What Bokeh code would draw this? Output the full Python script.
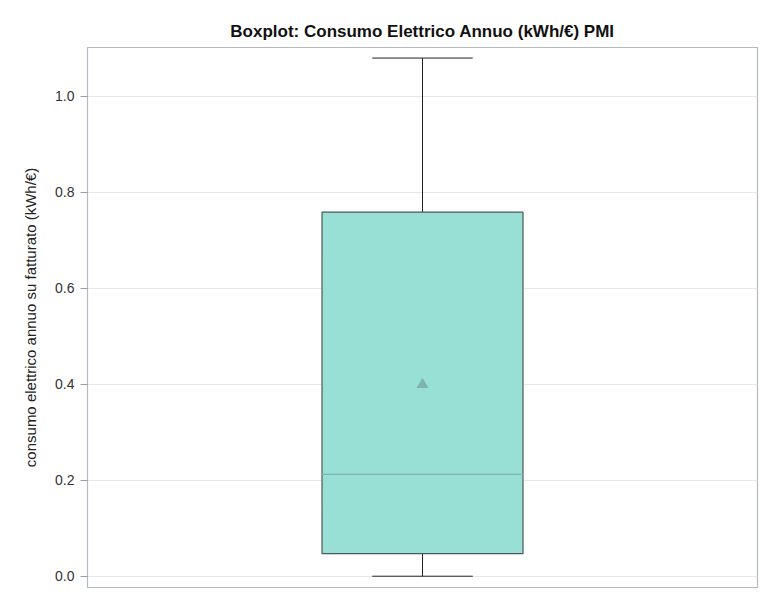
from bokeh.plotting import figure
from bokeh.models import ColumnDataSource, SingleIntervalTicker, PrintfTickFormatter
from bokeh.embed import file_html
from bokeh.resources import INLINE

# data
groups = [1.0]
whisker_low = [0.0]
q1 = [0.047]
median = [0.212]
q3 = [0.758]
whisker_high = [1.079]
mean = [0.399]

box_w = 0.6
cap_w = 0.3

src = ColumnDataSource(dict(x=groups, lo=whisker_low, q1=q1, med=median, q3=q3, hi=whisker_high, mean=mean,
                            cl=[g - cap_w / 2 for g in groups], cr=[g + cap_w / 2 for g in groups]))

p = figure(width=760, height=598, output_backend="svg", toolbar_location=None,
           x_range=(0, 2), y_range=(-0.0235, 1.101),
           min_border_left=87, min_border_right=3, min_border_top=47, min_border_bottom=11,
           title="Boxplot: Consumo Elettrico Annuo (kWh/€) PMI")

p.title.align = "center"
p.title.text_font = "Liberation Sans"
p.title.text_font_size = "17px"
p.title.text_font_style = "bold"
p.title.text_color = "#111111"
p.title.standoff = 13

p.xaxis.visible = False
p.xgrid.visible = False
p.ygrid.grid_line_color = "#e6e6e6"
p.outline_line_color = "#b4bbc0"
p.outline_line_width = 1.2

yax = p.yaxis[0]
yax.ticker = SingleIntervalTicker(interval=0.2, num_minor_ticks=0)
yax.formatter = PrintfTickFormatter(format="%.1f")
yax.axis_label = "consumo elettrico annuo su fatturato (kWh/€)"
yax.axis_label_text_font = "Liberation Sans"
yax.axis_label_text_font_style = "normal"
yax.axis_label_text_font_size = "15px"
yax.axis_label_text_color = "#222222"
yax.axis_label_standoff = 13
yax.major_label_text_font = "Liberation Sans"
yax.major_label_text_font_size = "14px"
yax.major_label_text_color = "#333333"
yax.major_label_standoff = 6
yax.axis_line_color = "#b4bbc0"
yax.major_tick_line_color = "#9a9fa3"
yax.major_tick_out = 7
yax.major_tick_in = 0
yax.minor_tick_line_color = None

# whiskers
p.segment(x0="x", y0="lo", x1="x", y1="q1", source=src, line_color="#222222", line_width=1)
p.segment(x0="x", y0="q3", x1="x", y1="hi", source=src, line_color="#222222", line_width=1)
p.segment(x0="cl", y0="lo", x1="cr", y1="lo", source=src, line_color="#222222", line_width=1)
p.segment(x0="cl", y0="hi", x1="cr", y1="hi", source=src, line_color="#222222", line_width=1)

# box
p.quad(left=[g - box_w / 2 for g in groups], right=[g + box_w / 2 for g in groups],
       bottom=q1, top=q3, fill_color="#98dfd5", line_color="#4a5a58", line_width=1.2)
# median
p.segment(x0=[g - box_w / 2 for g in groups], x1=[g + box_w / 2 for g in groups],
          y0=median, y1=median, line_color="#7fb3ad", line_width=1.2)
# mean
p.scatter(x="x", y="mean", source=src, marker="triangle", size=12,
          fill_color="#7fb3ae", line_color=None)

open("out.html", "w").write(file_html(p, INLINE))
